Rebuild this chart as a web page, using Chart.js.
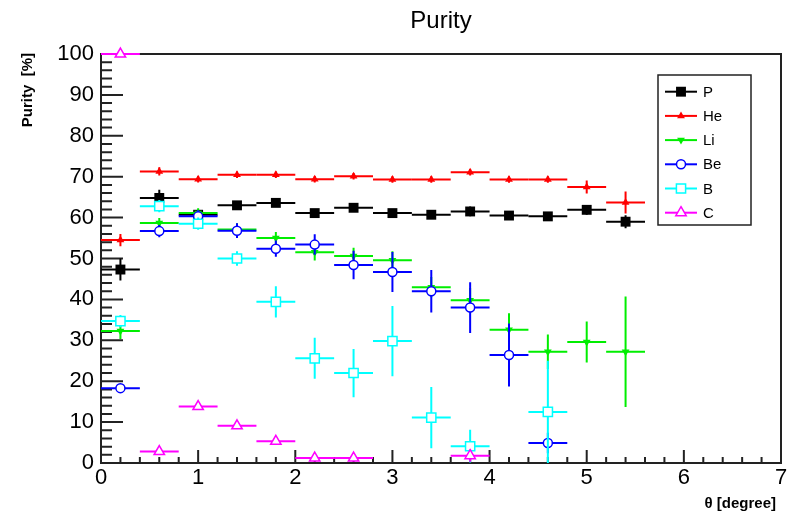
<!DOCTYPE html>
<html>
<head>
<meta charset="utf-8">
<script src="https://cdn.jsdelivr.net/npm/chart.js@4.4.1/dist/chart.umd.min.js"></script>
<style>
  html, body { margin: 0; padding: 0; background: #fff; }
  #wrap { width: 792px; height: 520px; }
</style>
</head>
<body>
<div id="wrap"><canvas id="purityChart" width="792" height="520"></canvas></div>
<script>
// bin centres in theta (degree), each bin is 0.4 wide
const thetaBins = [0.2, 0.6, 1.0, 1.4, 1.8, 2.2, 2.6, 3.0, 3.4, 3.8, 4.2, 4.6, 5.0, 5.4];
const binHalfWidth = 0.2;

const seriesNames = ['P', 'He', 'Li', 'Be', 'B', 'C'];

// purity values [%] (null = no point)
const purityP  = [47.3, 64.8, 60.7, 63.0, 63.6, 61.1, 62.4, 61.1, 60.7, 61.5, 60.5, 60.3, 61.9, 59.0];
const purityHe = [54.5, 71.3, 69.4, 70.5, 70.5, 69.4, 70.1, 69.3, 69.3, 71.1, 69.3, 69.3, 67.5, 63.7];
const purityLi = [32.3, 58.7, 61.1, 57.1, 55.0, 51.5, 50.6, 49.6, 43.0, 39.8, 32.6, 27.2, 29.6, 27.2];
const purityBe = [18.3, 56.7, 60.3, 56.8, 52.4, 53.4, 48.4, 46.7, 42.0, 38.0, 26.4, 4.9];
const purityB  = [34.7, 62.8, 58.5, 50.0, 39.4, 25.6, 22.0, 29.8, 11.1, 4.1, null, 12.5];
const purityC  = [100, 2.8, 13.8, 9.1, 5.3, 1.2, 1.2, null, null, 1.8];

// vertical errors [%]
const errP  = [2.7, 2.0, 1.2, 1.0, 1.0, 1.0, 1.0, 1.0, 1.0, 1.2, 1.0, 1.0, 1.2, 1.6];
const errHe = [1.5, 1.0, 0.8, 0.8, 0.8, 0.8, 0.8, 0.8, 0.8, 0.8, 0.8, 0.8, 1.6, 2.7];
const errLi = [2.0, 1.2, 1.2, 1.5, 1.5, 2.0, 2.0, 2.2, 2.5, 3.0, 4.0, 4.2, 5.0, 13.5];
const errBe = [0.8, 1.5, 1.5, 1.8, 2.0, 2.5, 3.5, 4.9, 5.2, 6.2, 7.7, 2.5];
const errB  = [1.5, 1.5, 1.5, 1.8, 3.8, 5.0, 5.9, 8.6, 7.5, 4.0, null, 12.5];
const errC  = [0.5, 0.8, 0.8, 0.8, 0.8, 0.8, 0.8, null, null, 1.5];

const xTicks = [0, 1, 2, 3, 4, 5, 6, 7];
const yTicks = [0, 10, 20, 30, 40, 50, 60, 70, 80, 90, 100];

const FONT = '"Liberation Sans", Arial, Helvetica, sans-serif';

const toPoints = (vals, errs) => vals
    .map((v, i) => ({ x: thetaBins[i], y: v, ey: errs[i] }))
    .filter(p => p.y !== null);

const styles = [
    { color: '#000000', pointStyle: 'rect', radius: 7, rotation: 0, fill: '#000000', bw: 0 },
    { color: '#ff0000', pointStyle: 'triangle', radius: 4.5, rotation: 0, fill: '#ff0000', bw: 0 },
    { color: '#00ee00', pointStyle: 'triangle', radius: 4.5, rotation: 180, fill: '#00ee00', bw: 0 },
    { color: '#0000ff', pointStyle: 'circle', radius: 4.5, rotation: 0, fill: '#ffffff', bw: 1.5 },
    { color: '#00ffff', pointStyle: 'rect', radius: 6.5, rotation: 0, fill: '#ffffff', bw: 1.5 },
    { color: '#ff00ff', pointStyle: 'triangle', radius: 6, rotation: 0, fill: '#ffffff', bw: 1.5 }
];

const allVals = [purityP, purityHe, purityLi, purityBe, purityB, purityC];
const allErrs = [errP, errHe, errLi, errBe, errB, errC];

const datasets = seriesNames.map((name, i) => ({
    label: name,
    data: toPoints(allVals[i], allErrs[i]),
    showLine: false,
    pointStyle: styles[i].pointStyle,
    pointRadius: styles[i].radius,
    pointRotation: styles[i].rotation,
    pointBackgroundColor: styles[i].fill,
    pointBorderColor: styles[i].color,
    pointBorderWidth: styles[i].bw,
    borderColor: styles[i].color,
    clip: false,
    order: seriesNames.length - i   // later series drawn on top, like ROOT
}));

// error bars (horizontal = bin width, vertical = stat error), drawn before each dataset's markers
const errorBars = {
    id: 'errorBars',
    beforeDatasetDraw(chart, args) {
        const ds = chart.data.datasets[args.index];
        const xs = chart.scales.x, ys = chart.scales.y;
        const area = chart.chartArea;
        const ctx = chart.ctx;
        ctx.save();
        ctx.beginPath();
        ctx.rect(area.left, area.top - 1, area.right - area.left, area.bottom - area.top + 1);
        ctx.clip();
        ctx.strokeStyle = ds.borderColor;
        ctx.lineWidth = 2;
        ds.data.forEach(p => {
            const px = xs.getPixelForValue(p.x);
            const py = ys.getPixelForValue(p.y);
            ctx.beginPath();
            ctx.moveTo(xs.getPixelForValue(p.x - binHalfWidth), py);
            ctx.lineTo(xs.getPixelForValue(p.x + binHalfWidth), py);
            if (p.ey) {
                ctx.moveTo(px, ys.getPixelForValue(p.y - p.ey));
                ctx.lineTo(px, ys.getPixelForValue(p.y + p.ey));
            }
            ctx.stroke();
        });
        ctx.restore();
    }
};

// ROOT-like frame, inner ticks, titles and legend box
const rootFrame = {
    id: 'rootFrame',
    beforeDatasetsDraw(chart) {
        const ctx = chart.ctx;
        const a = chart.chartArea;
        const xs = chart.scales.x, ys = chart.scales.y;
        ctx.save();
        ctx.strokeStyle = '#222';
        ctx.lineWidth = 2;
        ctx.strokeRect(a.left, a.top, a.right - a.left, a.bottom - a.top);
        ctx.beginPath();
        // y ticks: major every 10, minor every 2
        for (let v = 0; v <= 100; v += 2) {
            const y = ys.getPixelForValue(v);
            const len = v % 10 === 0 ? 22 : 11;
            ctx.moveTo(a.left, y);
            ctx.lineTo(a.left + len, y);
        }
        // x ticks: major every 1, minor every 0.2
        for (let k = 0; k <= 35; k++) {
            const x = xs.getPixelForValue(k * 0.2);
            const len = k % 5 === 0 ? 13 : 6;
            ctx.moveTo(x, a.bottom);
            ctx.lineTo(x, a.bottom - len);
        }
        ctx.stroke();
        ctx.restore();
    },
    afterDraw(chart) {
        const ctx = chart.ctx;
        const a = chart.chartArea;
        ctx.save();
        ctx.fillStyle = '#000';
        // main title
        ctx.font = '24px ' + FONT;
        ctx.textAlign = 'center';
        ctx.textBaseline = 'middle';
        ctx.fillText('Purity', (a.left + a.right) / 2, 21);
        // x title
        ctx.font = 'bold 15px ' + FONT;
        ctx.textAlign = 'right';
        ctx.fillText('\u03b8 [degree]', a.right - 5, 504);
        // y title, rotated, aligned to top of axis
        ctx.save();
        ctx.translate(28, a.top - 1);
        ctx.rotate(-Math.PI / 2);
        ctx.textAlign = 'right';
        ctx.fillText('Purity  [%]', 0, 0);
        ctx.restore();

        // legend
        const lx = 658, ly = 75, lw = 93, lh = 150;
        ctx.fillStyle = '#fff';
        ctx.fillRect(lx, ly, lw, lh);
        ctx.strokeStyle = '#222';
        ctx.lineWidth = 1.5;
        ctx.strokeRect(lx, ly, lw, lh);
        chart.data.datasets.forEach((ds, i) => {
            const y = 91.7 + 24.2 * i;
            ctx.strokeStyle = ds.borderColor;
            ctx.lineWidth = 2;
            ctx.beginPath();
            ctx.moveTo(665, y);
            ctx.lineTo(697, y);
            ctx.stroke();
            ctx.fillStyle = ds.pointBackgroundColor;
            ctx.lineWidth = ds.pointBorderWidth;
            Chart.helpers.drawPoint(ctx, {
                pointStyle: ds.pointStyle,
                radius: ds.pointRadius,
                rotation: ds.pointRotation,
                borderWidth: ds.pointBorderWidth
            }, 681, y);
            ctx.fillStyle = '#000';
            ctx.font = '15px ' + FONT;
            ctx.textAlign = 'left';
            ctx.textBaseline = 'middle';
            ctx.fillText(ds.label, 703, y + 1);
        });
        ctx.restore();
    }
};

new Chart(document.getElementById('purityChart').getContext('2d'), {
    type: 'scatter',
    data: { datasets: datasets },
    options: {
        responsive: false,
        animation: false,
        layout: { padding: { left: 0, top: 54, right: 11, bottom: 0 } },
        plugins: {
            legend: { display: false },
            tooltip: { enabled: false },
            title: { display: false }
        },
        scales: {
            x: {
                type: 'linear',
                min: 0,
                max: 7,
                afterFit: (scale) => { scale.height = 57; },
                afterBuildTicks: (scale) => { scale.ticks = xTicks.map(v => ({ value: v })); },
                grid: { display: false, drawTicks: false },
                border: { display: false },
                ticks: {
                    padding: 2,
                    color: '#000',
                    font: { family: FONT, size: 22 }
                }
            },
            y: {
                type: 'linear',
                min: 0,
                max: 100,
                afterFit: (scale) => { scale.width = 101; },
                afterBuildTicks: (scale) => { scale.ticks = yTicks.map(v => ({ value: v })); },
                grid: { display: false, drawTicks: false },
                border: { display: false },
                ticks: {
                    padding: 7,
                    color: '#000',
                    font: { family: FONT, size: 22 }
                }
            }
        }
    },
    plugins: [errorBars, rootFrame]
});
</script>
</body>
</html>
